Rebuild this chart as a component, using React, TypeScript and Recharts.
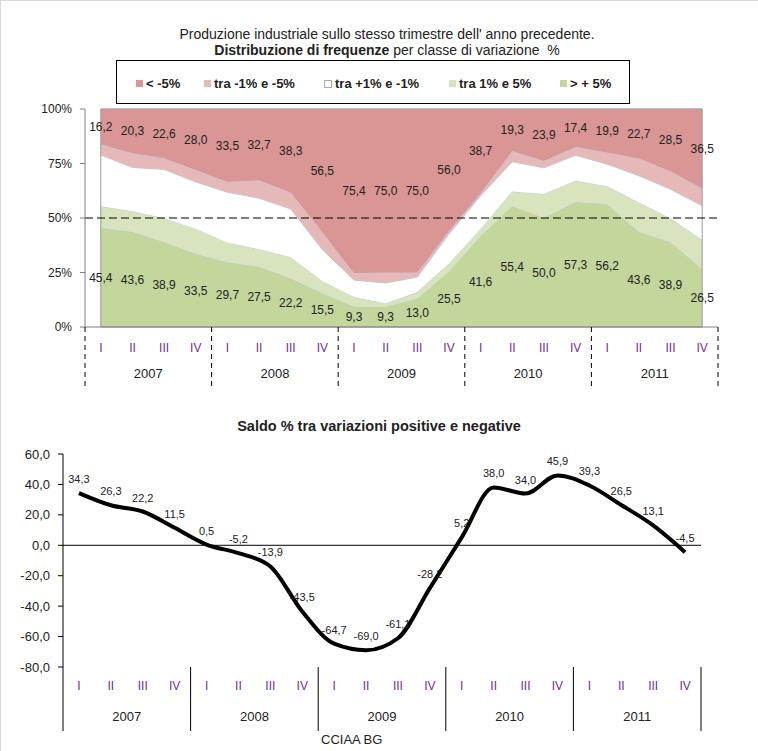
import React from "react";
import {
  ComposedChart, Area, Line, XAxis, YAxis, ReferenceLine, ReferenceArea, LabelList,
} from "recharts";

// quarters and years
const quarters = ["I", "II", "III", "IV"];
const years = ["2007", "2008", "2009", "2010", "2011"];

// % share of firms by class of change (sums to 100 per quarter)
const neg5 = [16.2, 20.3, 22.6, 28.0, 33.5, 32.7, 38.3, 56.5, 75.4, 75.0, 75.0, 56.0, 38.7, 19.3, 23.9, 17.4, 19.9, 22.7, 28.5, 36.5];
const neg1 = [4.9, 6.5, 5.1, 5.5, 4.7, 8.2, 7.6, 8.0, 3.1, 4.8, 2.1, 1.3, 1.1, 4.9, 3.1, 3.8, 5.4, 7.9, 8.3, 7.9];
const zero = [23.5, 20.1, 22.4, 21.5, 23.1, 23.4, 22.1, 14.5, 7.7, 9.4, 6.9, 13.6, 15.2, 13.6, 12.0, 11.7, 10.1, 12.3, 13.3, 15.7];
const pos1 = [10.0, 9.5, 11.0, 11.5, 9.0, 8.2, 9.8, 5.5, 4.5, 1.5, 3.0, 3.6, 3.4, 6.8, 11.0, 9.8, 8.4, 13.5, 11.0, 13.4];
const pos5 = [45.4, 43.6, 38.9, 33.5, 29.7, 27.5, 22.2, 15.5, 9.3, 9.3, 13.0, 25.5, 41.6, 55.4, 50.0, 57.3, 56.2, 43.6, 38.9, 26.5];

// saldo positive - negative
const saldo = [34.3, 26.3, 22.2, 11.5, 0.5, -5.2, -13.9, -43.5, -64.7, -69.0, -61.1, -28.2, 5.2, 38.0, 34.0, 45.9, 39.3, 26.5, 13.1, -4.5];

const pctTicks = [0, 25, 50, 75, 100];
const saldoTicks = [-80, -60, -40, -20, 0, 20, 40, 60];

const series = [
  { key: "neg5", name: "< -5%", color: "#D99694" },
  { key: "neg1", name: "tra -1% e -5%", color: "#E6B9B8" },
  { key: "zero", name: "tra +1% e -1%", color: "#FFFFFF" },
  { key: "pos1", name: "tra 1% e 5%", color: "#D7E4BD" },
  { key: "pos5", name: "> + 5%", color: "#C3D69B" },
];
const colorOf = (k: string) => series.find((s) => s.key === k)!.color;

const rows = neg5.map((_, i) => ({
  cat: years[Math.floor(i / 4)] + "-" + quarters[i % 4],
  neg5: neg5[i],
  neg1: neg1[i],
  zero: zero[i],
  pos1: pos1[i],
  pos5: pos5[i],
  hiMid: 100 - neg5[i] / 2,
  loMid: pos5[i] / 2,
  hiLabel: neg5[i],
  loLabel: pos5[i],
  saldo: saldo[i],
}));

const FONT = "'Liberation Sans', Arial, sans-serif";
const fmt = (v: any) => Number(v).toFixed(1).replace(".", ",");

function QuarterTick({ x, y, payload, index, bw, dashed, sepLen, qDy, yDy }: any) {
  const i = payload?.index ?? index;
  const sepProps = {
    stroke: "#000",
    strokeWidth: 1,
    strokeDasharray: dashed ? "5 4" : undefined,
  };
  return (
    <g>
      <text x={x} y={y + qDy} textAnchor="middle" fontSize={12} fill="#7030A0" fontFamily={FONT}>
        {quarters[i % 4]}
      </text>
      {i % 4 === 0 && <line x1={x - bw / 2} x2={x - bw / 2} y1={y} y2={y + sepLen} {...sepProps} />}
      {i === neg5.length - 1 && <line x1={x + bw / 2} x2={x + bw / 2} y1={y} y2={y + sepLen} {...sepProps} />}
      {i % 4 === 1 && (
        <text x={x + bw / 2} y={y + yDy} textAnchor="middle" fontSize={13} fill="#222" fontFamily={FONT}>
          {years[Math.floor(i / 4)]}
        </text>
      )}
    </g>
  );
}

const legendLeft = [135, 203, 323, 448, 559];

export default function App() {
  const topW = 758, topRight = 41, topYW = 84;
  const topBw = (topW - topRight - topYW) / neg5.length;
  const botW = 758, botRight = 58, botYW = 62;
  const botBw = (botW - botRight - botYW) / saldo.length;

  return (
    <div style={{ position: "absolute", left: 0, top: 0, width: 757, height: 750, background: "#fff", fontFamily: FONT, borderTop: "1px solid #d8d8d8", borderLeft: "1px solid #d8d8d8" }}>
      <div style={{ position: "absolute", left: 0, width: 772, top: 25, textAlign: "center", fontSize: 14, color: "#222", lineHeight: "16px" }}>
        Produzione industriale sullo stesso trimestre dell' anno precedente.
        <br />
        <b>Distribuzione di frequenze</b> per classe di variazione&nbsp; %
      </div>

      <div style={{ position: "absolute", left: 115, top: 59, width: 512, height: 42, border: "1px solid #000" }}>
        {series.map((s, i) => (
          <div key={s.key} style={{ position: "absolute", left: legendLeft[i] - 116, top: 15, display: "flex", alignItems: "center", fontSize: 13, fontWeight: "bold", color: "#222", whiteSpace: "nowrap", lineHeight: "15px" }}>
            <span style={{ display: "inline-block", width: s.key === "zero" ? 6 : 7, height: s.key === "zero" ? 6 : 7, background: s.color, border: s.key === "zero" ? "1px solid #aaa" : "none", marginRight: 3 }} />
            {s.name}
          </div>
        ))}
      </div>

      <div style={{ position: "absolute", left: 0, top: 98 }}>
        <ComposedChart width={topW} height={298} data={rows} margin={{ top: 10, right: topRight, left: 0, bottom: 0 }}>
          <XAxis
            dataKey="cat"
            interval={0}
            height={70}
            padding={{ left: topBw / 2, right: topBw / 2 }}
            tickLine={false}
            tickSize={0}
            tickMargin={0}
            axisLine={{ stroke: "#808080" }}
            tick={<QuarterTick bw={topBw} dashed sepLen={62} qDy={25} yDy={51} />}
          />
          <YAxis
            type="number"
            domain={[0, 100]}
            ticks={pctTicks}
            width={topYW}
            tickFormatter={(v) => `${v}%`}
            tick={{ fontSize: 12, fill: "#222", fontFamily: FONT }}
            tickSize={5}
            tickMargin={8}
            axisLine={{ stroke: "#808080" }}
            tickLine={{ stroke: "#808080" }}
            interval={0}
          />
          {["pos5", "pos1", "zero", "neg1", "neg5"].map((k) => (
            <Area
              key={k}
              type="linear"
              dataKey={k}
              stackId="a"
              fill={colorOf(k)}
              fillOpacity={1}
              stroke="#BFC6DA"
              strokeWidth={1}
              isAnimationActive={false}
              dot={false}
              activeDot={false}
            />
          ))}
          <ReferenceArea y1={0} y2={100} fill="none" stroke="#9a9a9a" strokeWidth={1} />
          <ReferenceLine y={50} stroke="#000" strokeDasharray="8 4" strokeWidth={1} />
          <Line dataKey="hiMid" stroke="none" dot={false} activeDot={false} isAnimationActive={false}>
            <LabelList dataKey="hiLabel" position="center" formatter={fmt} style={{ fontSize: 12, fill: "#222", fontFamily: FONT }} />
          </Line>
          <Line dataKey="loMid" stroke="none" dot={false} activeDot={false} isAnimationActive={false}>
            <LabelList dataKey="loLabel" position="center" formatter={fmt} style={{ fontSize: 12, fill: "#222", fontFamily: FONT }} />
          </Line>
        </ComposedChart>
      </div>

      <div style={{ position: "absolute", left: 0, width: 756, top: 417, textAlign: "center", fontSize: 14.5, fontWeight: "bold", color: "#222" }}>
        Saldo % tra variazioni positive e negative
      </div>

      <div style={{ position: "absolute", left: 0, top: 440 }}>
        <ComposedChart width={botW} height={305} data={rows} margin={{ top: 13, right: botRight, left: 0, bottom: 0 }}>
          <XAxis
            dataKey="cat"
            interval={0}
            height={79}
            padding={{ left: botBw / 2, right: botBw / 2 }}
            axisLine={false}
            tickLine={false}
            tickSize={0}
            tickMargin={0}
            tick={<QuarterTick bw={botBw} dashed={false} sepLen={64} qDy={23} yDy={54} />}
          />
          <YAxis
            type="number"
            domain={[-80, 60]}
            ticks={saldoTicks}
            width={botYW}
            tickFormatter={fmt}
            tick={{ fontSize: 13, fill: "#222", fontFamily: FONT }}
            tickSize={5}
            tickMargin={8}
            axisLine={{ stroke: "#000" }}
            tickLine={{ stroke: "#000" }}
            interval={0}
          />
          <ReferenceLine y={0} stroke="#000" strokeWidth={1} />
          <Line
            type="monotone"
            dataKey="saldo"
            stroke="#000"
            strokeWidth={4}
            dot={false}
            activeDot={false}
            isAnimationActive={false}
          >
            <LabelList dataKey="saldo" position="top" offset={10} formatter={fmt} style={{ fontSize: 11, fill: "#222", fontFamily: FONT }} />
          </Line>
        </ComposedChart>
      </div>

      <div style={{ position: "absolute", left: 320, top: 731, fontSize: 13, color: "#222" }}>CCIAA BG</div>
    </div>
  );
}
